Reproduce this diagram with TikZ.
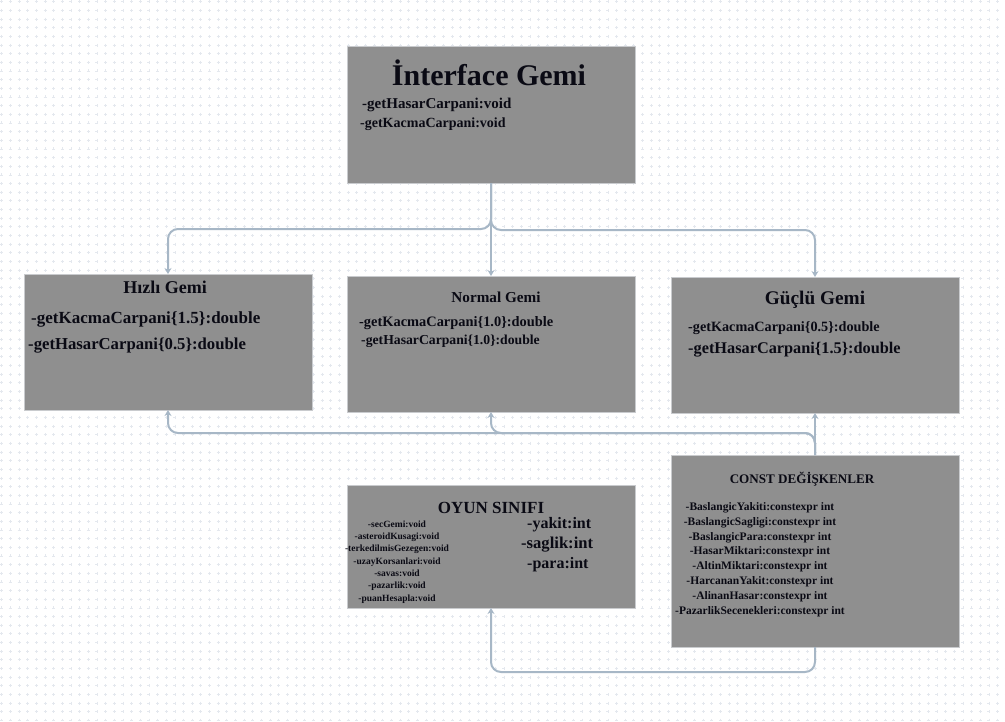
\documentclass[tikz,border=0pt]{standalone}
\usepackage{fontspec}
\setmainfont{Liberation Serif}
\usetikzlibrary{arrows.meta}
\definecolor{boxfill}{HTML}{8F8F8F}
\definecolor{boxline}{HTML}{C9CBCE}
\definecolor{connc}{HTML}{A7B7C6}
\definecolor{gridc}{HTML}{E4E8EE}
\definecolor{txt}{HTML}{0A0A14}
\newcommand{\fsz}[1]{\fontsize{#1}{#1}\selectfont\bfseries}
\tikzset{
  umlbox/.style={draw=boxline, line width=0.8pt, fill=boxfill, minimum width=288pt, inner sep=0pt, outer sep=0pt},
  conn/.style={draw=connc, line width=2pt, rounded corners=10pt, -{Stealth[length=6pt,width=7pt]}},
  lbl/.style={inner sep=0pt, text=txt, anchor=base west},
  clbl/.style={inner sep=0pt, text=txt, anchor=base},
  gridmark/.style={draw=gridc, line width=0.8pt, dash pattern=on 3pt off 5.66pt}
}
\begin{document}
\begin{tikzpicture}[x=1pt,y=-1pt]
\useasboundingbox (0,0) rectangle (1005,721);
\fill[white] (0,0) rectangle (1005,721);
% dotted grid of small plus marks
\foreach \i in {0,...,83}{
  \draw[gridmark] (0.2,{1.7+\i*8.66}) -- (1005,{1.7+\i*8.66});
}
\foreach \i in {0,...,116}{
  \draw[gridmark] ({1.7+\i*8.66},0.2) -- ({1.7+\i*8.66},721);
}
% boxes
\node[umlbox, minimum height=137pt] (iface) at (491,114.5) {};
\node[umlbox, minimum height=136pt] (hizli) at (168,342) {};
\node[umlbox, minimum height=136pt] (normal) at (491,344) {};
\node[umlbox, minimum height=136pt] (guclu) at (815,345) {};
\node[umlbox, minimum height=123pt] (oyun) at (491,546.5) {};
\node[umlbox, minimum height=192pt] (const) at (815,551) {};
% interface texts
\node[clbl] (t0) at (489,85) {\fsz{30}İnterface Gemi};
\node[lbl] (t1) at (362,108) {\fsz{15}-getHasarCarpani:void};
\node[lbl] (t2) at (360,127) {\fsz{14}-getKacmaCarpani:void};
% hizli
\node[clbl] (h0) at (165,293) {\fsz{18}Hızlı Gemi};
\node[lbl] (h1) at (31,323) {\fsz{17}-getKacmaCarpani\{1.5\}:double};
\node[lbl] (h2) at (28,349) {\fsz{16.7}-getHasarCarpani\{0.5\}:double};
% normal
\node[clbl] (n0) at (496,302) {\fsz{15.2}Normal Gemi};
\node[lbl] (n1) at (359,326) {\fsz{14.4}-getKacmaCarpani\{1.0\}:double};
\node[lbl] (n2) at (361,344) {\fsz{13.7}-getHasarCarpani\{1.0\}:double};
% guclu
\node[clbl] (g0) at (815,304) {\fsz{19.3}Güçlü Gemi};
\node[lbl] (g1) at (688,331) {\fsz{14.2}-getKacmaCarpani\{0.5\}:double};
\node[lbl] (g2) at (688,353) {\fsz{16.3}-getHasarCarpani\{1.5\}:double};
% oyun
\node[clbl] (o0) at (491,513) {\fsz{17}OYUN SINIFI};
\node[clbl] (o1) at (397,527) {\fsz{9.5}-secGemi:void};
\node[clbl] (o2) at (397,539) {\fsz{9.5}-asteroidKusagi:void};
\node[clbl] (o3) at (397,551) {\fsz{9.5}-terkedilmisGezegen:void};
\node[clbl] (o4) at (397,564) {\fsz{9.5}-uzayKorsanlari:void};
\node[clbl] (o5) at (397,576) {\fsz{9.5}-savas:void};
\node[clbl] (o6) at (397,588) {\fsz{9.5}-pazarlik:void};
\node[clbl] (o7) at (397,601) {\fsz{9.5}-puanHesapla:void};
\node[lbl] (o8) at (527,528) {\fsz{16}-yakit:int};
\node[lbl] (o9) at (521,548) {\fsz{16.6}-saglik:int};
\node[lbl] (o10) at (527,568) {\fsz{16}-para:int};
% const
\node[clbl] (c0) at (802,483) {\fsz{13.1}CONST DEĞİŞKENLER};
\node[clbl] (c1) at (760,510) {\fsz{11.5}-BaslangicYakiti:constexpr int};
\node[clbl] (c2) at (760,525) {\fsz{11.5}-BaslangicSagligi:constexpr int};
\node[clbl] (c3) at (760,540) {\fsz{11.5}-BaslangicPara:constexpr int};
\node[clbl] (c4) at (760,554) {\fsz{11.5}-HasarMiktari:constexpr int};
\node[clbl] (c5) at (760,569) {\fsz{11.5}-AltinMiktari:constexpr int};
\node[clbl] (c6) at (760,584) {\fsz{11.5}-HarcananYakit:constexpr int};
\node[clbl] (c7) at (760,599) {\fsz{11.5}-AlinanHasar:constexpr int};
\node[clbl] (c8) at (760,614) {\fsz{11.5}-PazarlikSecenekleri:constexpr int};
% junction coordinates
\coordinate (jl) at (168,229);
\coordinate (jr) at (815,230);
\coordinate (bl) at (168,433);
\coordinate (bm) at (491,433);
\coordinate (bo) at (491,672);
% connectors
\draw[conn] (iface.south) -- (normal.north);
\draw[conn] (iface.south) |- (jl) -- (hizli.north);
\draw[conn] (iface.south) |- (jr) -- (guclu.north);
\draw[conn] (const.north) -- (guclu.south);
\draw[conn] (const.north) |- (bm) -- (normal.south);
\draw[conn] (const.north) |- (bl) -- (hizli.south);
\draw[conn] (const.south) |- (bo) -- (oyun.south);
\end{tikzpicture}
\end{document}
